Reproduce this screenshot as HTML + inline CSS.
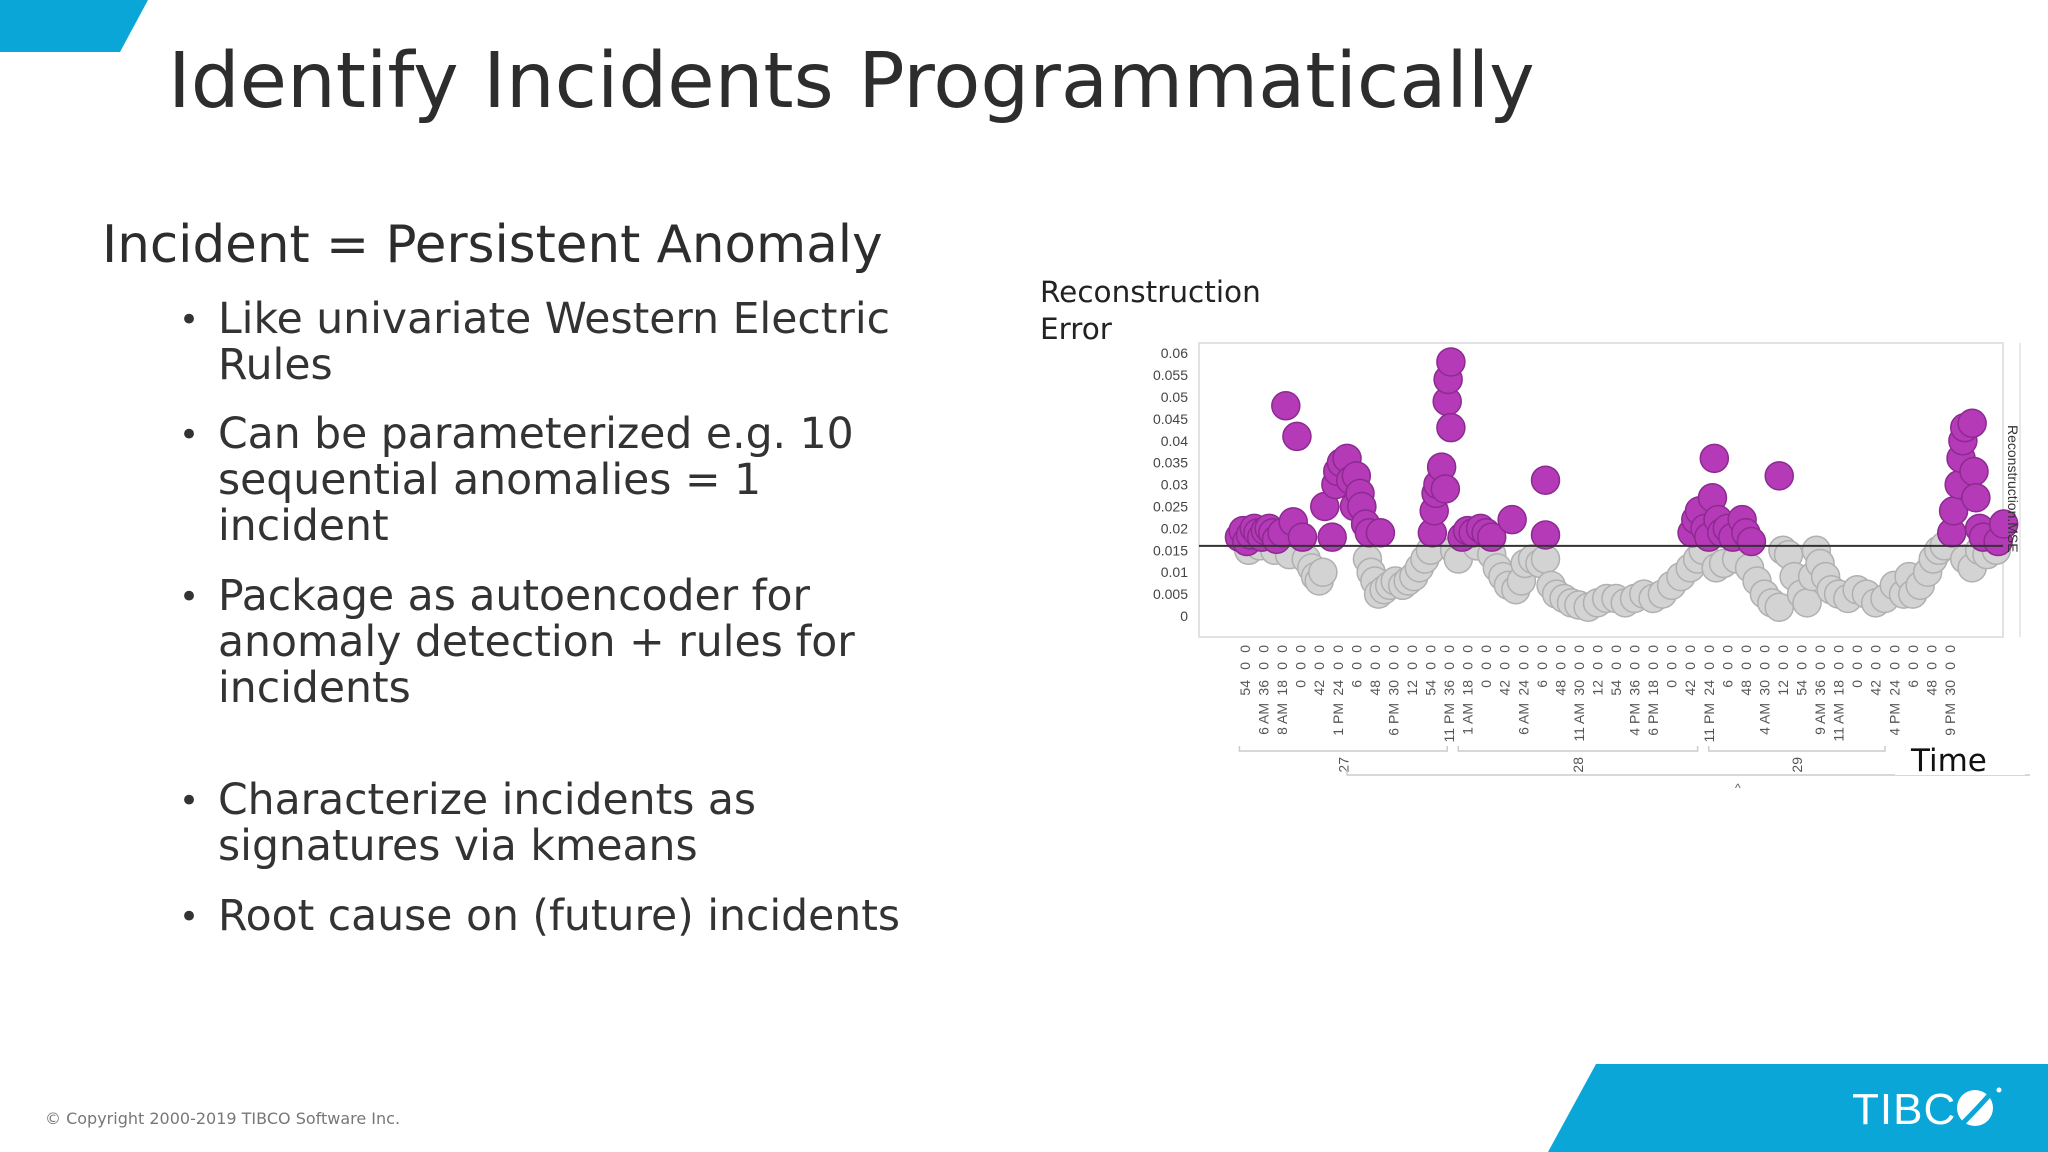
<!DOCTYPE html>
<html><head><meta charset="utf-8">
<style>
body{margin:0;width:2048px;height:1152px;overflow:hidden;background:#fff;font-family:"DejaVu Sans","Liberation Sans",sans-serif;color:#333;position:relative}
.t{position:absolute;white-space:nowrap}
.b{position:absolute;left:218px;font-size:42.5px;line-height:46px;color:#333;white-space:nowrap}
.dot{position:absolute;left:179px;font-size:34px}
</style></head><body>
<svg style="position:absolute;left:0;top:0" width="160" height="60"><polygon points="0,0 148,0 120,52 0,52" fill="#0aa6d8"/></svg>
<div class="t" style="left:168px;top:37px;font-size:77px;color:#2d2d2d">Identify Incidents Programmatically</div>
<div class="t" style="left:102px;top:215px;font-size:51.5px;color:#2d2d2d">Incident = Persistent Anomaly</div>
<div>
<div class="dot" style="top:300px">•</div>
<div class="b" style="top:297px">Like univariate Western Electric<br>Rules</div>
<div class="dot" style="top:415px">•</div>
<div class="b" style="top:412px">Can be parameterized e.g. 10<br>sequential anomalies = 1<br>incident</div>
<div class="dot" style="top:577px">•</div>
<div class="b" style="top:574px">Package as autoencoder for<br>anomaly detection + rules for<br>incidents</div>
<div class="dot" style="top:781px">•</div>
<div class="b" style="top:778px">Characterize incidents as<br>signatures via kmeans</div>
<div class="dot" style="top:897px">•</div>
<div class="b" style="top:894px">Root cause on (future) incidents</div>
</div>
<div class="t" style="left:1040px;top:274px;font-size:29.5px;line-height:37px;color:#222">Reconstruction<br>Error</div>
<svg id="chart" style="position:absolute;left:0;top:0" width="2048" height="1152"></svg>
<div class="t" style="left:45px;top:1109px;font-size:16px;color:#777">© Copyright 2000-2019 TIBCO Software Inc.</div>
<svg style="position:absolute;left:0;top:0" width="2048" height="1152"><polygon points="1596,1064 2048,1064 2048,1152 1548,1152" fill="#0aa6d8"/>
<g><text x="1852" y="1124" font-size="44" fill="#fff" font-family="Liberation Sans,sans-serif" letter-spacing="1">TIBC</text><circle cx="1975" cy="1108" r="18" fill="#fff"/><path d="M1962,1124 Q1978,1108 1992,1092" stroke="#0aa6d8" stroke-width="5" fill="none"/><circle cx="1999" cy="1090" r="2.5" fill="#fff"/></g></svg>
<script>
const yTicks=[0,0.005,0.01,0.015,0.02,0.025,0.03,0.035,0.04,0.045,0.05,0.055,0.06];
const minuteLabels=["54","36","18","0","42","24","6","48","30","12","54","36","18","0","42","24","6","48","30","12","54","36","18","0","42","24","6","48","30","12","54","36","18","0","42","24","6","48","30"];
const hourIdx=[1,2,5,8,11,12,15,18,21,22,25,28,31,32,35,38];
const hourLabels=["6 AM","8 AM","1 PM","6 PM","11 PM","1 AM","6 AM","11 AM","4 PM","6 PM","11 PM","4 AM","9 AM","11 AM","4 PM","9 PM"];
const dayLabels=["27","28","29"];
const dayStart=[-0.3,11.5,25.0];
const dayEnd=[10.9,24.4,34.5];
const threshold=0.016;
const t=[-0.3,-0.1,0.1,0.3,0.5,0.7,0.9,1.1,1.3,1.5,1.7,2.0,2.2,2.6,2.8,3.1,0.2,0.8,1.6,2.4,3.3,3.6,3.8,4.0,4.2,4.3,4.7,4.9,5.0,5.2,5.5,5.7,5.9,6.0,6.2,6.3,6.5,6.7,7.3,6.6,6.8,7.0,7.2,7.5,7.8,8.1,8.5,8.8,9.1,9.4,9.7,10.0,10.1,10.2,10.3,10.4,10.6,10.8,10.9,10.95,11.1,11.1,11.3,11.5,11.7,12.0,12.3,12.7,13.0,13.3,12.5,13.3,13.6,13.9,14.2,14.4,14.6,14.9,15.1,15.5,15.9,16.2,16.2,16.2,16.5,16.8,17.2,17.6,18.0,18.5,19.0,19.5,20.0,20.5,21.0,21.5,22.0,22.5,23.0,23.5,24.0,24.4,24.7,24.1,24.3,24.5,24.8,25.0,25.2,25.3,25.5,25.7,26.0,26.3,26.8,27.0,27.3,28.8,25.4,25.8,26.5,27.2,27.6,28.0,28.4,28.8,29.0,29.3,29.6,30.0,30.3,30.6,30.8,31.0,31.3,31.6,32.0,32.5,33.0,33.5,34.0,34.5,35.0,35.5,35.8,36.0,36.4,36.8,37.1,37.4,37.7,38.1,38.2,38.5,38.6,38.7,38.8,39.2,39.3,39.4,39.6,39.8,40.6,38.8,39.2,39.6,40.0,40.5,40.9];
const v=[0.018,0.0195,0.017,0.0185,0.02,0.019,0.018,0.0195,0.02,0.019,0.0175,0.019,0.048,0.0215,0.041,0.018,0.015,0.016,0.015,0.014,0.013,0.011,0.009,0.008,0.01,0.025,0.018,0.03,0.033,0.035,0.036,0.031,0.025,0.032,0.028,0.025,0.021,0.019,0.019,0.013,0.01,0.008,0.005,0.006,0.007,0.008,0.007,0.008,0.009,0.011,0.013,0.015,0.019,0.024,0.028,0.03,0.034,0.029,0.049,0.054,0.043,0.058,0.015,0.013,0.018,0.0195,0.019,0.02,0.019,0.018,0.016,0.014,0.011,0.009,0.007,0.022,0.006,0.008,0.012,0.013,0.012,0.031,0.0185,0.013,0.007,0.005,0.004,0.003,0.0025,0.002,0.003,0.004,0.004,0.003,0.004,0.005,0.004,0.005,0.007,0.009,0.011,0.013,0.015,0.019,0.022,0.024,0.02,0.018,0.027,0.036,0.022,0.019,0.02,0.018,0.022,0.019,0.017,0.032,0.011,0.012,0.013,0.011,0.008,0.005,0.003,0.002,0.015,0.014,0.009,0.005,0.003,0.009,0.015,0.012,0.009,0.006,0.005,0.004,0.006,0.005,0.003,0.004,0.007,0.005,0.009,0.005,0.007,0.01,0.013,0.015,0.016,0.019,0.024,0.03,0.036,0.04,0.043,0.044,0.033,0.027,0.02,0.018,0.017,0.013,0.011,0.015,0.014,0.015,0.021];
const NS="http://www.w3.org/2000/svg";
const svg=document.getElementById('chart');
const L=1199,R=2003,T=343,B=637;
const y0=616,yPer=43.8/0.01;
const xs=i=>1245+i*18.55;
const ys=val=>y0-val*yPer;
function mk(tag,attrs,parent){const e=document.createElementNS(NS,tag);for(const k in attrs)e.setAttribute(k,attrs[k]);(parent||svg).appendChild(e);return e;}
const frame=mk('rect',{x:L,y:T,width:R-L,height:B-T,fill:'none',stroke:'#e2e2e2','stroke-width':2});


mk('line',{x1:R+17,y1:T,x2:R+17,y2:B,stroke:'#e8e8e8','stroke-width':2});
yTicks.forEach(tk=>{const e=mk('text',{x:1188,y:ys(tk)+5,'text-anchor':'end','font-size':14,fill:'#444','font-family':'Liberation Sans,sans-serif'});e.textContent=String(tk);

});
const g=mk('g',{});


const order=[];v.forEach((val,i)=>order.push(i));
order.sort((a,b)=>(v[a]>threshold)-(v[b]>threshold));
order.forEach(i=>{const hot=v[i]>threshold;const c=mk('circle',{cx:xs(t[i]),cy:ys(v[i]),r:14,fill:hot?'#b53ab8':'#d3d3d3',stroke:hot?'#8c2a90':'#b0b0b0','stroke-width':1.5},g);

});
const th=mk('line',{x1:L,x2:R,y1:ys(threshold),y2:ys(threshold),stroke:'#333','stroke-width':2});


const ff='Liberation Sans,sans-serif';
function rot(x,y,txt,name){const e=mk('text',{x:0,y:0,transform:`translate(${x+5},${y}) rotate(-90)`,'text-anchor':'end','font-size':14,fill:'#555','font-family':ff});e.textContent=txt;

return e;}
minuteLabels.forEach((m,i)=>{const x=xs(i);rot(x,645,'0','x-tick-ms');rot(x,662,'0','x-tick-sec');rot(x,680,m,'x-tick-minute');});
hourIdx.forEach((idx,k)=>rot(xs(idx),703,hourLabels[k],'x-tick-hour'));
dayLabels.forEach((d,k)=>{const a=xs(dayStart[k]),b=xs(dayEnd[k]);mk('path',{d:`M${a},746 L${a},751 L${b},751 L${b},746`,fill:'none',stroke:'#ccc','stroke-width':1.5});rot((a+b)/2,757,d,'x-tick-day');});
mk('path',{d:`M${xs(5.5)},770 L${xs(5.5)},775 L2030,775`,fill:'none',stroke:'#ccc','stroke-width':1.5});
mk('text',{x:1735,y:792,'font-size':12,fill:'#555','font-family':ff}).textContent='^';
mk('rect',{x:1895,y:735,width:130,height:40,fill:'#fff'});
const tm=mk('text',{x:1911,y:771,'font-size':31,fill:'#111','font-family':'DejaVu Sans,sans-serif'});tm.textContent='Time';


const rt=mk('text',{x:0,y:0,transform:'translate(2008,425) rotate(90)','font-size':14,fill:'#333','font-family':ff});rt.textContent='Reconstruction.MSE';


</script>
</body></html>
